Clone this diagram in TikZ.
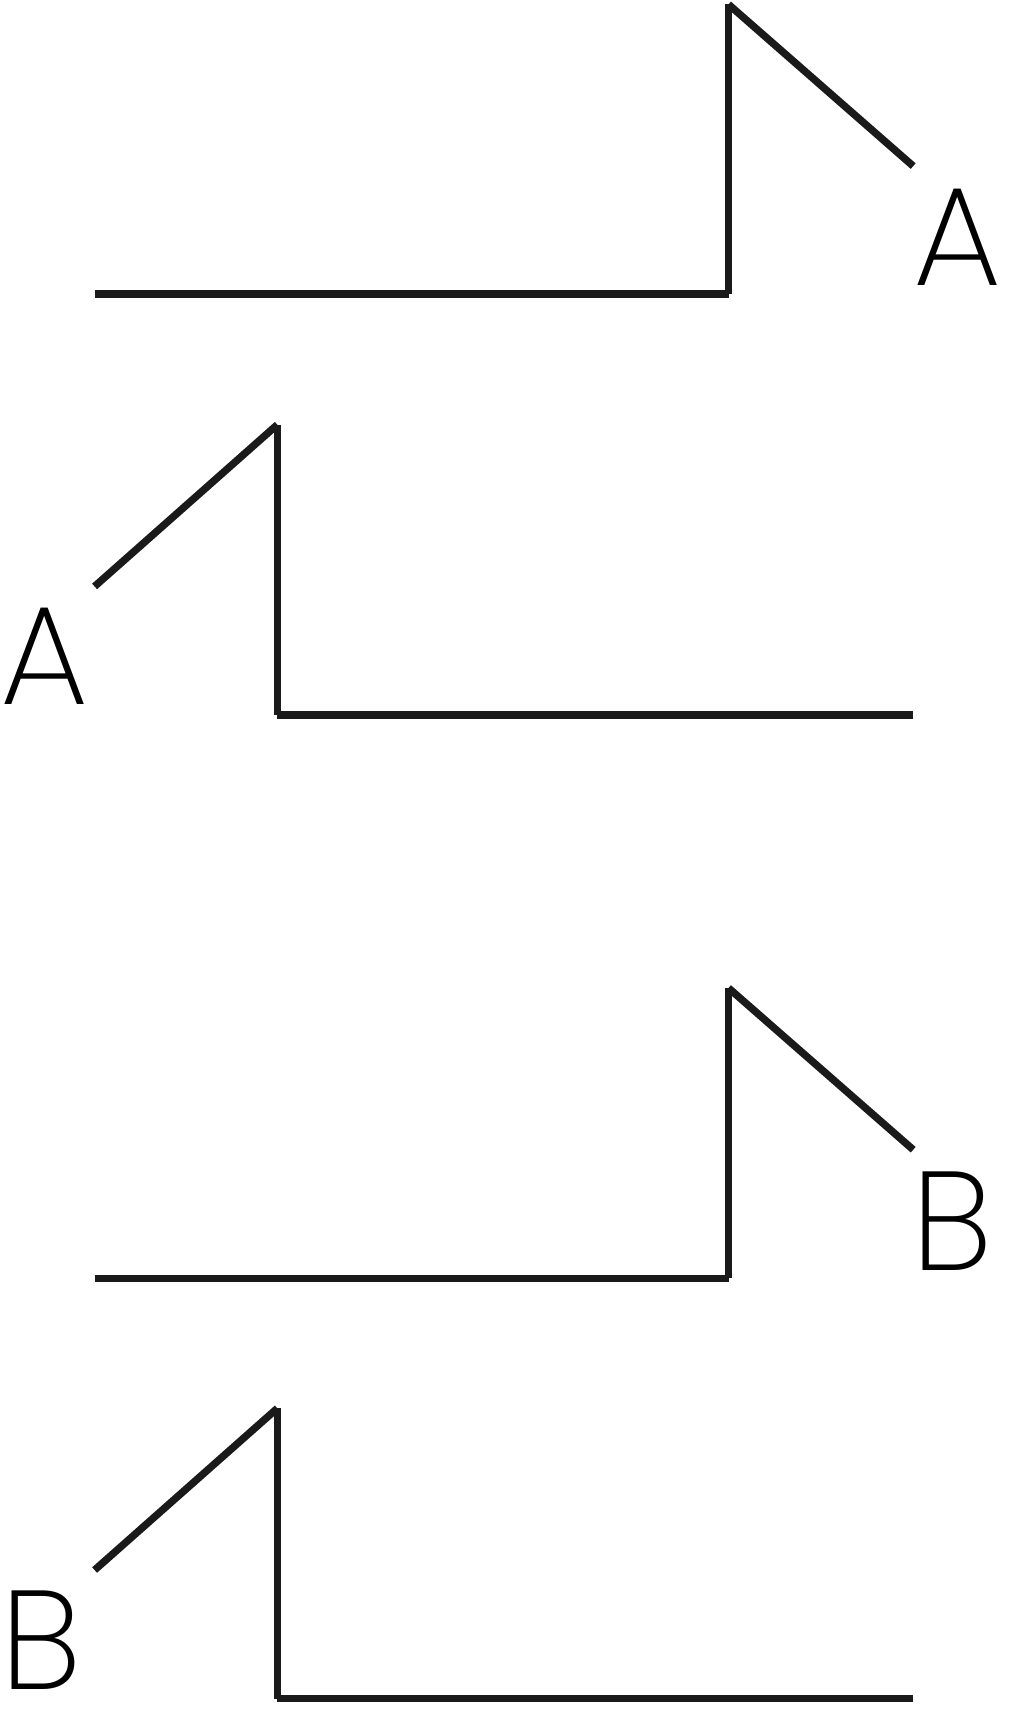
\documentclass[tikz,border=0pt]{standalone}
\usepackage{fontspec}
\IfFontExistsTF{Poppins ExtraLight}{\setmainfont{Poppins ExtraLight}}{%
  \IfFontExistsTF{Poppins Light}{\setmainfont{Poppins Light}}{%
    \IfFontExistsTF{Lato Light}{\setmainfont{Lato Light}}{%
      \IfFontExistsTF{Fira Sans Light}{\setmainfont{Fira Sans Light}}{\setmainfont{Poppins}}}}}
\usepackage{tikz}
\usetikzlibrary{calc}
\usepackage{xcolor}
\definecolor{inkgray}{HTML}{1A1A1A}
\tikzstyle{seam} = [line width=4.2pt, draw=inkgray, line cap=butt]
\tikzstyle{tag} = [inner sep=0pt, text=black, font=\fontsize{80}{80}\selectfont]

\begin{document}
\begin{tikzpicture}[x=0.02cm, y=-0.02cm]
  \useasboundingbox (0,0) rectangle (1021,1725);

  % upper pair, cut A
  \coordinate (a1s) at (94.6,294);
  \coordinate (a1c) at (728.5,294);
  \coordinate (a1t) at (728.5,4.4);
  \coordinate (a1e) at (913.2,166.1);
  \draw[seam] (a1s) -- (a1c);
  \draw[seam] (a1c) -- (a1t);
  \draw[seam] (a1t) -- (a1e);
  \node[tag] (labA1) at (958,237) {A};

  \coordinate (a2e) at (94.6,586.4);
  \coordinate (a2t) at (277.3,424.7);
  \coordinate (a2c) at (277.3,715.1);
  \coordinate (a2s) at (913.2,715.1);
  \draw[seam] (a2e) -- (a2t);
  \draw[seam] (a2t) -- (a2c);
  \draw[seam] (a2c) -- (a2s);
  \node[tag] (labA2) at (45,656) {A};

  % lower pair, cut B
  \coordinate (b1s) at (94.6,1278.4);
  \coordinate (b1c) at (728.5,1278.4);
  \coordinate (b1t) at (728.5,988);
  \coordinate (b1e) at (913.2,1149.7);
  \draw[seam] (b1s) -- (b1c);
  \draw[seam] (b1c) -- (b1t);
  \draw[seam] (b1t) -- (b1e);
  \node[tag] (labB1) at (952,1221) {B};

  \coordinate (b2e) at (94.6,1570);
  \coordinate (b2t) at (277.3,1408.3);
  \coordinate (b2c) at (277.3,1698.7);
  \coordinate (b2s) at (913.2,1698.7);
  \draw[seam] (b2e) -- (b2t);
  \draw[seam] (b2t) -- (b2c);
  \draw[seam] (b2c) -- (b2s);
  \node[tag] (labB2) at (41,1640) {B};
\end{tikzpicture}
\end{document}
